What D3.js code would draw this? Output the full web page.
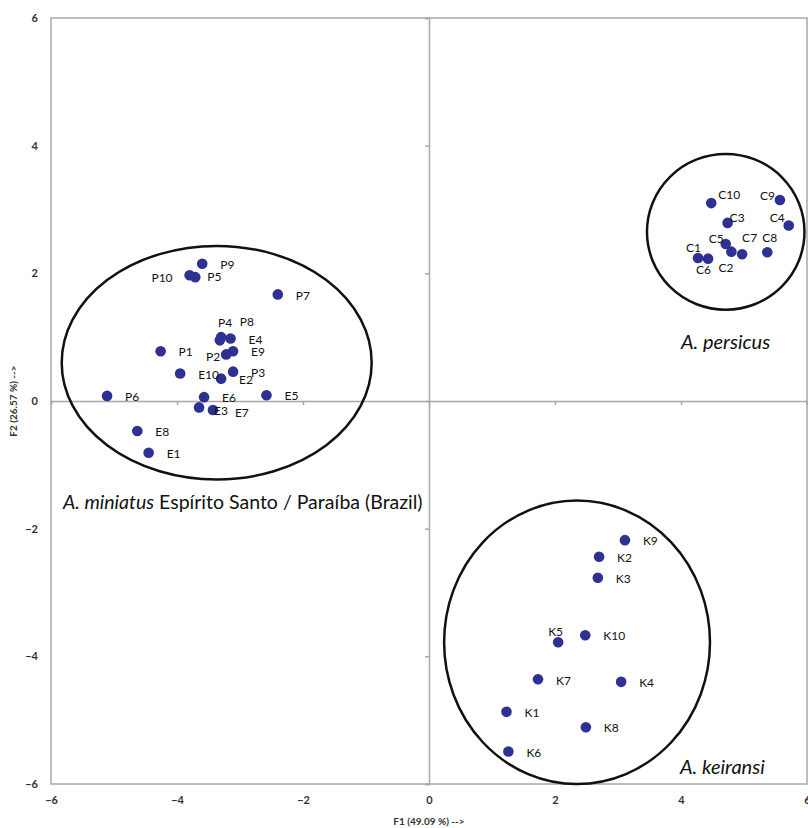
<!DOCTYPE html>
<html>
<head>
    <meta charset='utf-8'>
    <title>PCA F1 x F2</title>
    <style>
        body { margin: 0; background: #fff; }
        text { font-family: Lato, "Open Sans", sans-serif; }
    </style>
</head>
<body>
<svg width="808" height="828"></svg>
<script src="https://d3js.org/d3.v7.min.js"></script>
<script>
    const width = 808
    const height = 828

    const axisTicks = [-6, -4, -2, 0, 2, 4, 6]
    const xTitle = "F1 (49.09 %) -->"
    const yTitle = "F2 (26.57 %) -->"

    // A. miniatus (P = Paraíba, E = Espírito Santo)
    const miniatusNames = ["P1", "P2", "P3", "P4", "P5", "P6", "P7", "P8", "P9", "P10",
        "E1", "E2", "E3", "E4", "E5", "E6", "E7", "E8", "E9", "E10"]
    const miniatusF1 = [-4.26, -3.22, -3.11, -3.30, -3.71, -5.11, -2.40, -3.32, -3.60, -3.80,
        -4.45, -3.30, -3.65, -3.15, -2.58, -3.57, -3.43, -4.63, -3.11, -3.95]
    const miniatusF2 = [0.78, 0.73, 0.46, 1.00, 1.94, 0.08, 1.67, 0.95, 2.15, 1.97,
        -0.81, 0.35, -0.10, 0.98, 0.09, 0.06, -0.14, -0.47, 0.78, 0.43]

    // A. persicus
    const persicusNames = ["C1", "C2", "C3", "C4", "C5", "C6", "C7", "C8", "C9", "C10"]
    const persicusF1 = [4.27, 4.80, 4.74, 5.71, 4.71, 4.43, 4.97, 5.37, 5.57, 4.48]
    const persicusF2 = [2.24, 2.34, 2.79, 2.75, 2.46, 2.23, 2.30, 2.33, 3.15, 3.10]

    // A. keiransi
    const keiransiNames = ["K1", "K2", "K3", "K4", "K5", "K6", "K7", "K8", "K9", "K10"]
    const keiransiF1 = [1.23, 2.70, 2.68, 3.05, 2.05, 1.26, 1.73, 2.49, 3.11, 2.48]
    const keiransiF2 = [-4.87, -2.44, -2.77, -4.40, -3.78, -5.49, -4.36, -5.11, -2.18, -3.67]

    // group ellipses, in F1/F2 units
    const groupCenterF1 = [-3.37, 4.71, 2.35]
    const groupCenterF2 = [0.60, 2.65, -3.78]
    const groupRadiusF1 = [2.46, 1.25, 2.11]
    const groupRadiusF2 = [1.83, 1.22, 2.22]

    // hand moved labels: [dx, dy, anchor] in px from the point
    const labelNudge = {
        P10: [-17, 3, "end"], P5: [12, 0, "start"], P4: [-3, -14, "start"], P8: [20, -19, "start"],
        P2: [-6, 2, "end"], E3: [15, 3, "start"], E7: [22, 3, "start"],
        C10: [7, -8, "start"], C9: [-5, -4, "end"], C3: [2, -5, "start"], C4: [-4, -8, "end"],
        C5: [-2, -5, "end"], C7: [0, -16, "start"], C8: [-5, -14, "start"], C2: [-13, 16, "start"],
        C1: [-12, -10, "start"], C6: [-12, 11, "start"],
        K5: [-10, -10, "start"]
    }

    const zip = (names, f1, f2) => names.map((name, i) => ({name, f1: f1[i], f2: f2[i]}))
    const points = [
        ...zip(miniatusNames, miniatusF1, miniatusF2),
        ...zip(persicusNames, persicusF1, persicusF2),
        ...zip(keiransiNames, keiransiF1, keiransiF2)
    ]

    const x = d3.scaleLinear().domain([-6, 6]).range([51, 807])
    const y = d3.scaleLinear().domain([-6, 6]).range([784, 18])

    const svg = d3.select("svg")
        .attr("viewBox", [0, 0, width, height])

    const grey = "#a8a8a8"

    // plot frame
    svg.append("rect")
        .attr("x", x(-6))
        .attr("y", y(6))
        .attr("width", x(6) - x(-6))
        .attr("height", y(-6) - y(6))
        .attr("fill", "none")
        .attr("stroke", grey)
        .attr("stroke-width", 1.5)

    // zero lines with small ticks
    svg.append("g")
        .attr("transform", `translate(0,${y(0)})`)
        .call(d3.axisBottom(x).tickValues(axisTicks).tickSize(4).tickFormat(""))
        .call(g => g.selectAll("line,path").attr("stroke", grey).attr("stroke-width", 1.5))

    svg.append("g")
        .attr("transform", `translate(${x(0)},0)`)
        .call(d3.axisLeft(y).tickValues(axisTicks).tickSize(4).tickFormat(""))
        .call(g => g.selectAll("line,path").attr("stroke", grey).attr("stroke-width", 1.5))

    // tick labels sit on the frame edges
    svg.append("g")
        .attr("transform", `translate(0,${y(-6)})`)
        .call(d3.axisBottom(x).tickValues(axisTicks).tickSize(0).tickPadding(12))
        .call(g => g.select(".domain").remove())
        .call(g => g.selectAll("text")
            .attr("font-family", "Lato, sans-serif")
            .attr("font-size", 11).attr("font-weight", "bold").attr("fill", "#333"))

    svg.append("g")
        .attr("transform", `translate(${x(-6)},0)`)
        .call(d3.axisLeft(y).tickValues(axisTicks).tickSize(0).tickPadding(13))
        .call(g => g.select(".domain").remove())
        .call(g => g.selectAll("text")
            .attr("font-family", "Lato, sans-serif")
            .attr("font-size", 11).attr("font-weight", "bold").attr("fill", "#333"))

    svg.append("text")
        .attr("x", x(0))
        .attr("y", 825)
        .attr("text-anchor", "middle")
        .attr("font-size", 10)
        .attr("font-weight", "bold")
        .attr("fill", "#333")
        .text(xTitle)

    svg.append("text")
        .attr("transform", `translate(17,${y(0)}) rotate(-90)`)
        .attr("text-anchor", "middle")
        .attr("font-size", 10)
        .attr("font-weight", "bold")
        .attr("fill", "#333")
        .text(yTitle)

    // group ellipses
    svg.append("g")
        .selectAll("ellipse")
        .data(groupCenterF1)
        .join("ellipse")
        .attr("cx", d => x(d))
        .attr("cy", (d, i) => y(groupCenterF2[i]))
        .attr("rx", (d, i) => x(d + groupRadiusF1[i]) - x(d))
        .attr("ry", (d, i) => y(groupCenterF2[i]) - y(groupCenterF2[i] + groupRadiusF2[i]))
        .attr("fill", "none")
        .attr("stroke", "#111")
        .attr("stroke-width", 2.5)

    // points
    svg.append("g")
        .attr("fill", "#2e3192")
        .selectAll("circle")
        .data(points)
        .join("circle")
        .attr("cx", d => x(d.f1))
        .attr("cy", d => y(d.f2))
        .attr("r", 5.3)

    svg.append("g")
        .attr("font-size", 12)
        .attr("fill", "#111")
        .selectAll("text")
        .data(points)
        .join("text")
        .attr("x", d => x(d.f1) + (labelNudge[d.name] ? labelNudge[d.name][0] : 18))
        .attr("y", d => y(d.f2) + (labelNudge[d.name] ? labelNudge[d.name][1] : 1))
        .attr("dy", "0.35em")
        .attr("text-anchor", d => labelNudge[d.name] ? labelNudge[d.name][2] : "start")
        .text(d => d.name)

    // group names
    const miniatusLabel = svg.append("text")
        .attr("x", 63)
        .attr("y", 509)
        .attr("font-size", 19.5)
        .attr("fill", "#111")
    miniatusLabel.append("tspan").attr("font-style", "italic").text("A. miniatus")
    miniatusLabel.append("tspan").text(" Espírito Santo / Paraíba (Brazil)")

    svg.append("text")
        .attr("x", 681)
        .attr("y", 349)
        .attr("font-size", 20)
        .attr("font-style", "italic")
        .attr("fill", "#111")
        .text("A. persicus")

    svg.append("text")
        .attr("x", 680)
        .attr("y", 774)
        .attr("font-size", 20)
        .attr("font-style", "italic")
        .attr("fill", "#111")
        .text("A. keiransi")
</script>
</body>
</html>
